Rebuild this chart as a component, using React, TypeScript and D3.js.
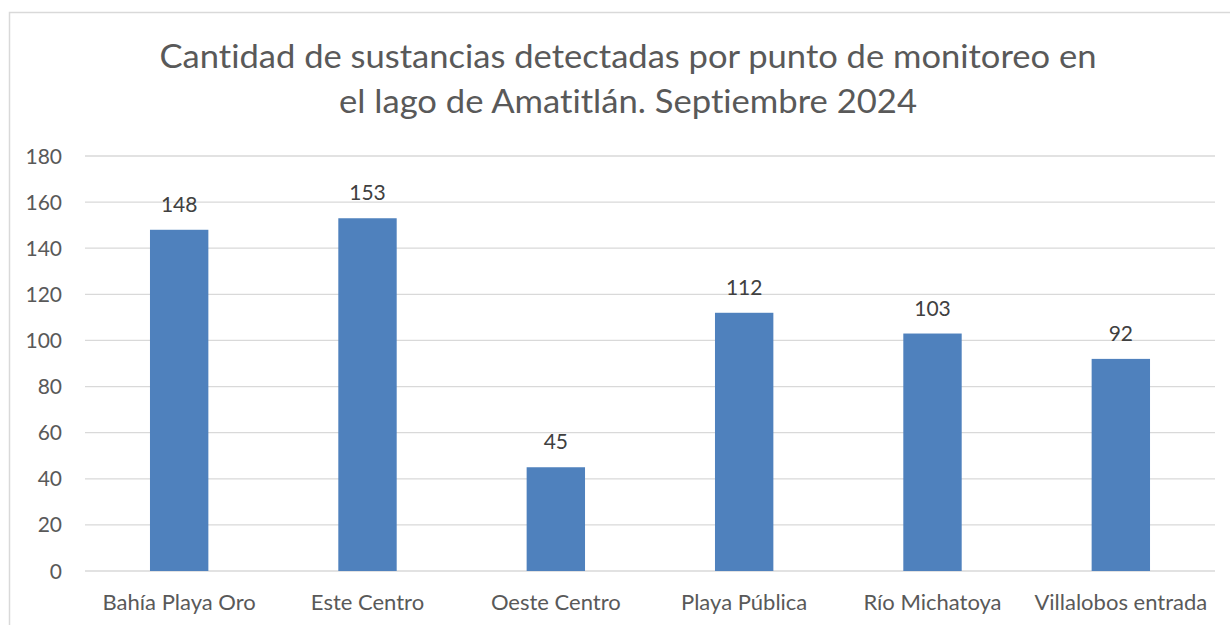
import React from "react";
import * as d3 from "d3";

const categories = ["Bahía Playa Oro", "Este Centro", "Oeste Centro", "Playa Pública", "Río Michatoya", "Villalobos entrada"];
const values = [148, 153, 45, 112, 103, 92];
const yTicks = [0, 20, 40, 60, 80, 100, 120, 140, 160, 180];
const titleLines = ["Cantidad de sustancias detectadas por punto de monitoreo en", "el lago de Amatitlán. Septiembre 2024"];

const W = 1230;
const H = 625;
const FONT = "Lato, 'Open Sans', 'DejaVu Sans', sans-serif";
const noLig = { fontVariantLigatures: "none" as const, fontFeatureSettings: "'liga' 0, 'clig' 0" };

export default function App() {
  const left = 85, right = 1215, top = 156, bottom = 571;
  const x = d3.scaleBand<string>().domain(categories).range([left, right]).padding(0);
  const y = d3.scaleLinear().domain([0, 180]).range([bottom, top]);
  const barW = x.bandwidth() * 0.31;
  return (
    <svg width={W} height={H} style={{ position: "absolute", left: 0, top: 0, background: "#fff" }}>
      <rect x={9.5} y={12.5} width={1240} height={640} fill="#fff" stroke="#d9d9d9" strokeWidth={1.5} />
      {titleLines.map((t, i) => (
        <text key={i} x={628} y={68 + i * 45} textAnchor="middle" fontFamily={FONT} fontSize={33} fill="#595959"
          style={noLig} textLength={i === 0 ? 937 : 578} lengthAdjust="spacingAndGlyphs">{t}</text>
      ))}
      {yTicks.map((t) => (
        <g key={t}>
          <line x1={left} x2={right} y1={y(t)} y2={y(t)} stroke="#d9d9d9" strokeWidth={1.3} />
          <text x={62} y={y(t) + 7.5} textAnchor="end" fontFamily={FONT} fontSize={21} fill="#595959">{t}</text>
        </g>
      ))}
      {categories.map((c, i) => {
        const cx = (x(c) as number) + x.bandwidth() / 2;
        return (
          <g key={c}>
            <rect x={cx - barW / 2} y={y(values[i])} width={barW} height={y(0) - y(values[i])} fill="#4F81BD" />
            <text x={cx} y={y(values[i]) - 18} textAnchor="middle" fontFamily={FONT} fontSize={21} fill="#404040">{values[i]}</text>
            <text x={cx} y={610} textAnchor="middle" fontFamily={FONT} fontSize={22} fill="#595959" style={noLig}>{c}</text>
          </g>
        );
      })}
    </svg>
  );
}
